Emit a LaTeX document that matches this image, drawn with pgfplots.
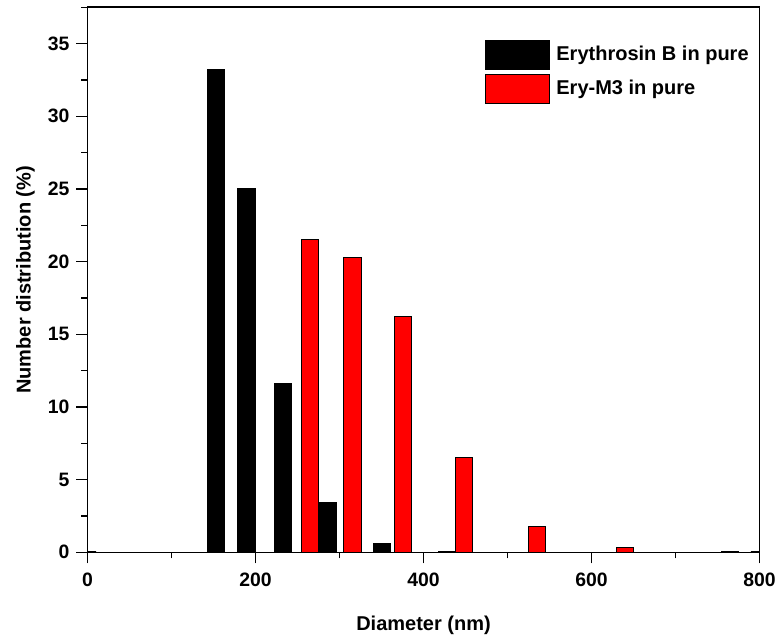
\documentclass[border=0pt]{standalone}
\usepackage{fontspec}
\setmainfont{Liberation Sans}
\usepackage{pgfplots}
\pgfplotsset{compat=1.18}
\begin{document}
\begin{tikzpicture}
\begin{axis}[
  name=ax,
  scale only axis, width=336pt, height=272.5pt,
  xmin=0, xmax=800, ymin=0, ymax=37.5,
  axis lines=box,
  xtick={0,200,...,800}, minor xtick={100,300,500,700},
  ytick={0,5,...,35}, minor ytick={2.5,7.5,...,37.5},
  tick align=outside, tick pos=left,
  major tick length=5.5pt, minor tick length=3pt,
  tick style={black, line width=0.7pt},
  /pgf/number format/assume math mode=true,
  ticklabel style={font=\bfseries\fontsize{9.7}{11}\selectfont},
  xticklabel style={yshift=-1.5pt},
  xlabel={\bfseries Diameter (nm)}, ylabel={\bfseries Number distribution (\%)},
  label style={font=\bfseries\fontsize{10}{12}\selectfont},
  xlabel style={at={(axis description cs:0.5,0)}, anchor=base, yshift=-38.9pt},
  ylabel style={at={(axis description cs:0,0.5)}, anchor=center, yshift=31pt},
  axis line style={black, line width=0.8pt},
  ybar, bar width=20.3, bar shift=0pt,
  legend style={at={(axis description cs:0.5915,0.9406)}, anchor=north west, draw=none, fill=none,
    font=\bfseries\fontsize{10}{12}\selectfont, row sep=2pt, column sep=2pt, inner sep=0pt,
    nodes={inner sep=1pt}},
  legend cell align=left,
  legend image code/.code={\draw[#1, draw=black, line width=0.5pt] (0pt,-7.25pt) rectangle (32pt,7.25pt);},
]
\addplot[fill=black, draw=black, line width=0.5pt] coordinates {
  (153.5,33.2) (189.3,25.0) (232.6,11.6) (285.7,3.4) (350.3,0.6) (428,0.05) (765,0.05)};
\addlegendentry{Erythrosin B in pure}
\addplot[fill=red, draw=black, line width=0.5pt] coordinates {
  (265,21.5) (315.5,20.3) (375.6,16.2) (448.4,6.5) (535.3,1.8) (639.8,0.3)};
\addlegendentry{Ery-M3 in pure}
\addplot[ybar=false, black, line width=1.3pt, forget plot] coordinates {(0,0) (800,0)};
\end{axis}
\draw[black, line width=0.8pt] (ax.south west) rectangle (ax.north east);
\pgfresetboundingbox
\path ([xshift=-43.75pt, yshift=-42.35pt]ax.south west) rectangle ++(390pt,318.5pt);
\end{tikzpicture}
\end{document}
